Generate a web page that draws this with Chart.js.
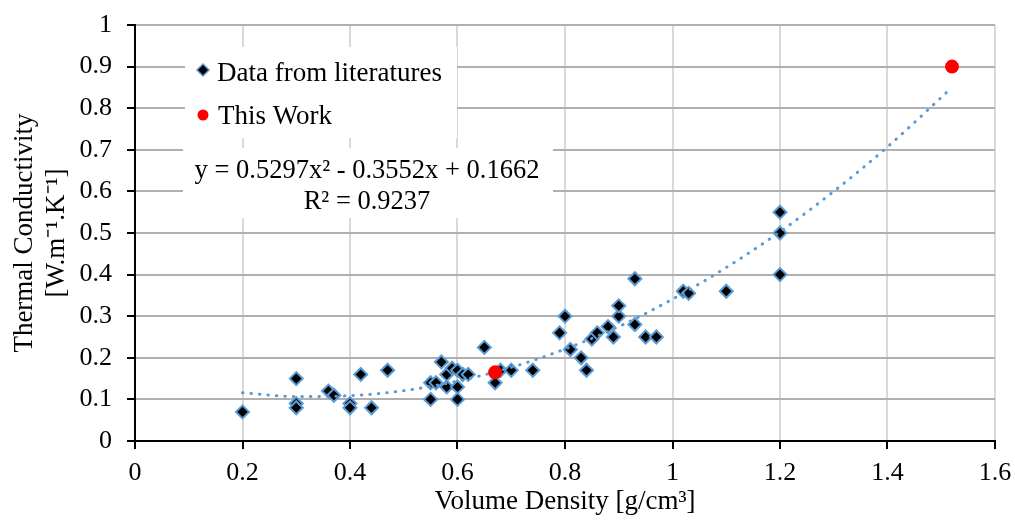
<!DOCTYPE html>
<html>
<head>
<meta charset="utf-8">
<script src="https://cdn.jsdelivr.net/npm/chart.js@4.4.0/dist/chart.umd.min.js"></script>
<style>
  html, body { margin: 0; padding: 0; background: #fff; }
  #wrap { width: 1015px; height: 524px; position: relative; }
</style>
</head>
<body>
<div id="wrap"><canvas id="chartTk"></canvas></div>
<script>
// data
const litX = [0.20, 0.30, 0.30, 0.30, 0.36, 0.37, 0.40, 0.40, 0.42, 0.44, 0.47, 0.55, 0.55, 0.56, 0.57, 0.58, 0.58, 0.59, 0.60, 0.60,
              0.60, 0.61, 0.62, 0.65, 0.67, 0.68, 0.70, 0.74, 0.79, 0.80, 0.81, 0.83, 0.84, 0.85, 0.86, 0.88, 0.89, 0.90, 0.90, 0.93,
              0.93, 0.95, 0.97, 1.02, 1.03, 1.10, 1.20, 1.20, 1.20];
const litY = [0.07, 0.15, 0.09, 0.08, 0.12, 0.11, 0.09, 0.08, 0.16, 0.08, 0.17, 0.10, 0.14, 0.14, 0.19, 0.13, 0.16, 0.175, 0.17, 0.13,
              0.10, 0.16, 0.16, 0.225, 0.14, 0.17, 0.17, 0.17, 0.26, 0.30, 0.22, 0.20, 0.17, 0.245, 0.26, 0.275, 0.25, 0.30, 0.325, 0.39,
              0.28, 0.25, 0.25, 0.36, 0.355, 0.36, 0.55, 0.50, 0.40];
const workX = [0.67, 1.52];
const workY = [0.165, 0.90];
const trendX = [0.2, 0.3, 0.4, 0.5, 0.6, 0.7, 0.8, 0.9, 1.0, 1.1, 1.2, 1.3, 1.4, 1.52];
const trendY = [0.116, 0.107, 0.109, 0.121, 0.144, 0.177, 0.221, 0.275, 0.341, 0.417, 0.503, 0.600, 0.707, 0.850];

const legendLabels = ["Data from literatures", "This Work"];
const eqLines = ["y = 0.5297x\u00B2 - 0.3552x + 0.1662", "R\u00B2 = 0.9237"];
const xTitle = "Volume Density [g/cm\u00B3]";
const yTitle = ["Thermal Conductivity", "[W.m\u207B\u00B9.K\u207B\u00B9]"];

const FONT = "'Liberation Serif', 'Times New Roman', serif";
const blue = '#5b9bd5';

function toPts(xs, ys) {
    return xs.map((x, i) => ({ x: x, y: ys[i] }));
}

function fmtTick(v) {
    return String(Number(v.toFixed(1)));
}

// white boxes for legend and trendline label, drawn over the grid
const boxesPlugin = {
    id: 'boxes',
    beforeDatasetsDraw(chart) {
        const ctx = chart.ctx;
        ctx.save();
        ctx.fillStyle = '#fff';
        ctx.fillRect(185, 47, 272, 91);
        ctx.fillRect(183, 148, 370, 70);

        // legend markers
        ctx.beginPath();
        ctx.moveTo(203, 64); ctx.lineTo(209, 70); ctx.lineTo(203, 76); ctx.lineTo(197, 70); ctx.closePath();
        ctx.fillStyle = '#000';
        ctx.fill();
        ctx.lineWidth = 1.5;
        ctx.strokeStyle = blue;
        ctx.stroke();
        ctx.beginPath();
        ctx.arc(203, 115, 5.5, 0, Math.PI * 2);
        ctx.fillStyle = '#ff0000';
        ctx.fill();

        ctx.fillStyle = '#000';
        ctx.font = "27px " + FONT;
        ctx.textBaseline = 'middle';
        ctx.textAlign = 'left';
        ctx.fillText(legendLabels[0], 217, 74);
        ctx.fillText(legendLabels[1], 218, 117);

        ctx.font = "26.5px " + FONT;
        ctx.textAlign = 'center';
        ctx.fillText(eqLines[0], 367, 171);
        ctx.fillText(eqLines[1], 367, 202);
        ctx.restore();
    }
};

const ctx = document.getElementById('chartTk').getContext('2d');
new Chart(ctx, {
    type: 'scatter',
    data: {
        datasets: [
            {
                label: legendLabels[1],
                data: toPts(workX, workY),
                pointStyle: 'circle',
                pointRadius: 7,
                backgroundColor: '#ff0000',
                borderColor: '#ff0000',
                borderWidth: 0
            },
            {
                label: 'Trend',
                data: toPts(trendX, trendY),
                showLine: true,
                pointRadius: 0,
                borderColor: blue,
                borderWidth: 3,
                borderDash: [0.5, 8],
                borderCapStyle: 'round',
                cubicInterpolationMode: 'monotone',
                fill: false
            },
            {
                label: legendLabels[0],
                data: toPts(litX, litY),
                pointStyle: 'rectRot',
                pointRadius: 6.5,
                backgroundColor: '#000',
                borderColor: blue,
                borderWidth: 2
            }
        ]
    },
    options: {
        responsive: true,
        maintainAspectRatio: false,
        animation: false,
        layout: { padding: { top: 25, right: 20, left: 0, bottom: 0 } },
        scales: {
            x: {
                type: 'linear',
                min: 0, max: 1.6,
                afterFit: s => { s.height = 83; s.paddingLeft = 0; s.paddingRight = 0; },
                ticks: { stepSize: 0.2, color: '#000', padding: 9, callback: fmtTick, font: { family: FONT, size: 26 } },
                grid: { color: '#d9d9d9', lineWidth: 2, tickColor: '#000', tickLength: 8, tickWidth: 2 },
                border: { color: '#000', width: 2 },
                title: { display: true, text: xTitle, color: '#000', font: { family: FONT, size: 27, lineHeight: 1.2 }, padding: { top: 0, bottom: 6 } }
            },
            y: {
                min: 0, max: 1,
                afterFit: s => { s.width = 135; s.paddingTop = 0; s.paddingBottom = 0; },
                ticks: { stepSize: 0.1, color: '#000', padding: 15, callback: fmtTick, font: { family: FONT, size: 26 } },
                grid: { color: '#b0b0b0', lineWidth: 2, tickColor: '#000', tickLength: 8, tickWidth: 2 },
                border: { color: '#000', width: 2 },
                title: { display: true, text: yTitle, color: '#000', font: { family: FONT, size: 27, lineHeight: 1.185 }, padding: { top: 9, bottom: 0 } }
            }
        },
        plugins: {
            legend: { display: false },
            tooltip: { enabled: false }
        }
    },
    plugins: [boxesPlugin]
});
</script>
</body>
</html>
